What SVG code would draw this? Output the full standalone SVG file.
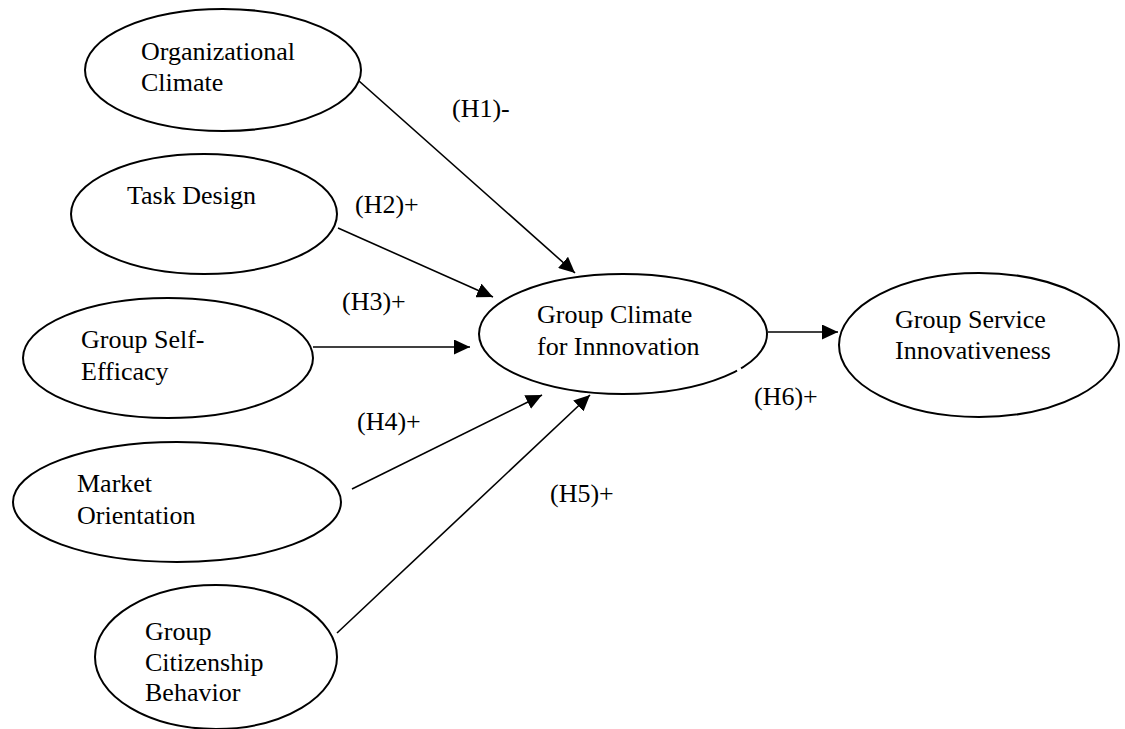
<svg xmlns="http://www.w3.org/2000/svg" width="1125" height="729" viewBox="0 0 1125 729">
<style>
.n{fill:#fff;stroke:#000;stroke-width:2}
text{font-family:'Liberation Serif','Times New Roman',Times,serif;font-size:26px;fill:#000}
.c{stroke:#000;stroke-width:1.6;fill:none;marker-end:url(#ah)}
</style>
<defs>
<marker id="ah" markerUnits="userSpaceOnUse" markerWidth="16" markerHeight="15" refX="16" refY="7.5" orient="auto">
<path d="M0,0 L16,7.5 L0,15 z" fill="#000"/>
</marker>
</defs>
<rect width="1125" height="729" fill="#fff"/>
<g id="connectors">
<line class="c" x1="359" y1="81" x2="575" y2="273"/>
<line class="c" x1="338" y1="228" x2="493" y2="297"/>
<line class="c" x1="313" y1="347" x2="470" y2="347"/>
<line class="c" x1="352" y1="489" x2="542" y2="395"/>
<line class="c" x1="337" y1="633" x2="590" y2="395"/>
<line class="c" x1="768" y1="332" x2="838" y2="332"/>
</g>
<g id="org-climate">
<ellipse class="n" cx="223" cy="70" rx="138" ry="61"/>
<text x="141" y="60">Organizational</text>
<text x="141" y="91">Climate</text>
</g>
<g id="task-design">
<ellipse class="n" cx="204" cy="214" rx="133" ry="60"/>
<text x="127" y="204">Task Design</text>
</g>
<g id="group-self-efficacy">
<ellipse class="n" cx="168" cy="358" rx="145" ry="60"/>
<text x="81" y="348">Group Self-</text>
<text x="81" y="380">Efficacy</text>
</g>
<g id="market-orientation">
<ellipse class="n" cx="177" cy="502" rx="164" ry="60"/>
<text x="77" y="492">Market</text>
<text x="77" y="524">Orientation</text>
</g>
<g id="group-citizenship">
<ellipse class="n" cx="216" cy="657" rx="121" ry="72"/>
<text x="145" y="640">Group</text>
<text x="145" y="671">Citizenship</text>
<text x="145" y="701">Behavior</text>
</g>
<g id="group-climate">
<ellipse class="n" cx="623" cy="334" rx="144" ry="60"/>
<line x1="737" y1="370.6" x2="741" y2="368.3" stroke="#fff" stroke-width="4"/>
<text x="537" y="323">Group Climate</text>
<text x="537" y="355">for Innnovation</text>
</g>
<g id="group-service">
<ellipse class="n" cx="979" cy="345" rx="140" ry="72"/>
<text x="895" y="328">Group Service</text>
<text x="895" y="359">Innovativeness</text>
</g>
<g id="labels">
<text x="452" y="117">(H1)-</text>
<text x="355" y="213">(H2)+</text>
<text x="342" y="310">(H3)+</text>
<text x="357" y="430">(H4)+</text>
<text x="550" y="502">(H5)+</text>
<text x="754" y="405">(H6)+</text>
</g>
</svg>
